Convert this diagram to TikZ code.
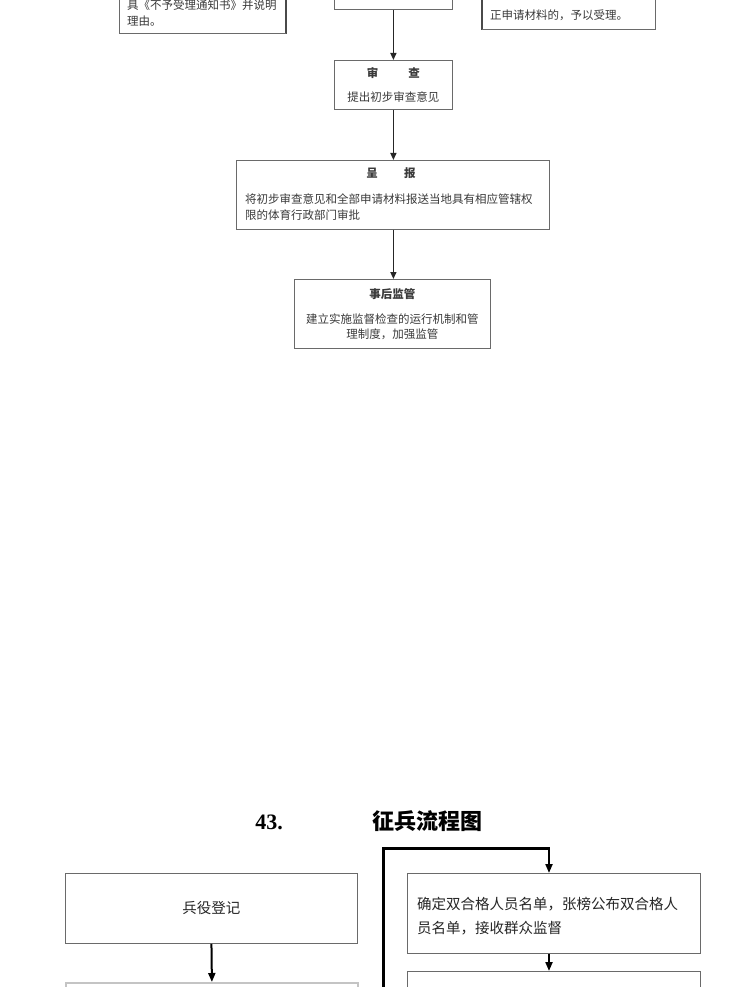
\documentclass[tikz,border=0pt]{standalone}
\usepackage{fontspec}
\newfontfamily\cjk{Noto Sans CJK SC}
\newfontfamily\tms{Liberation Serif}
\usetikzlibrary{arrows.meta}
\definecolor{boxgray}{HTML}{6A6A6A}
\definecolor{edgegray}{HTML}{4A4A4A}
\definecolor{txtgray}{HTML}{3A3A3A}
\definecolor{lightgray}{HTML}{C4C4C4}
\begin{document}
\begin{tikzpicture}[x=1pt,y=-1pt,
  box/.style={draw=boxgray, line width=0.8pt, rectangle, inner sep=0pt, anchor=north west},
  sbox/.style={box, font=\cjk\fontsize{11.5}{24}\selectfont, text=txtgray, align=center},
  bbox/.style={box, draw=boxgray, line width=0.9pt, font=\cjk\fontsize{14.5}{24}\selectfont, text=black!85},
  stxt/.style={inner sep=0pt, font=\cjk\fontsize{11.5}{16}\selectfont, text=txtgray},
  btxt/.style={inner sep=0pt, font=\cjk\fontsize{14.5}{24}\selectfont, text=black!85, align=left},
  edge/.style={draw=edgegray, line width=1.6pt},
  sarr/.style={draw=black!85, line width=1.3pt, -{Triangle[length=7pt,width=6pt]}},
  barr/.style={draw=black, line width=2pt, -{Triangle[length=9pt,width=7pt]}},
  thick line/.style={draw=black, line width=3pt}
]
\useasboundingbox (0,0) rectangle (730,987);
\clip (0,0) rectangle (730,987);
\fill[white] (0,0) rectangle (730,987);

% ---------- upper flow ----------
\node[box, minimum width=166pt, minimum height=73pt] (tl) at (119,-40) {};
\draw[edge] (tl.north east) -- (tl.south east);
\draw[draw=boxgray, line width=1.2pt] (tl.south west) -- (tl.south east);
\node[stxt, anchor=west] (tlt1) at (127,5.5) {具《不予受理通知书》并说明};
\node[stxt, anchor=west] (tlt2) at (127,21.5) {理由。};

\node[box, minimum width=118pt, minimum height=49.5pt] (tm) at (334,-40) {};

\node[box, minimum width=173pt, minimum height=69pt] (tr) at (482,-40) {};
\draw[edge] (tr.north west) -- (tr.south west);
\draw[draw=boxgray, line width=1.2pt] (tr.south west) -- (tr.south east);
\node[stxt, anchor=west] (trt) at (490,15) {正申请材料的，予以受理。};

\node[sbox, minimum width=118pt, minimum height=49pt] (sc) at (334,60)
  {{\bfseries 审\hspace{2.6em}查}\\提出初步审查意见};

\node[box, minimum width=313pt, minimum height=69pt] (cb) at (236,160) {};
\node[stxt, font=\cjk\bfseries\fontsize{11.5}{16}\selectfont] (cbt) at (391,173) {呈\hspace{2.3em}报};
\node[stxt, anchor=west, align=left] (cbb) at (245,207)
  {将初步审查意见和全部申请材料报送当地具有相应管辖权\\限的体育行政部门审批};

\node[box, minimum width=196pt, minimum height=69pt, font=\cjk\fontsize{11.5}{15}\selectfont, text=txtgray, align=center] (sh) at (294,279)
  {{\bfseries 事后监管}\\[10pt]建立实施监督检查的运行机制和管\\理制度，加强监管};

\draw[sarr] (tm.south) -- (tm.south |- sc.north);
\draw[sarr] (tm.south |- sc.south) -- (tm.south |- cb.north);
\draw[sarr] (tm.south |- cb.south) -- (tm.south |- sh.north);

% ---------- title ----------
\node[inner sep=0pt, font=\tms\bfseries\fontsize{22}{26}\selectfont] (num) at (269,822) {43.};
\node[inner sep=0pt, font=\cjk\bfseries\fontsize{22}{26}\selectfont] (ttl) at (427,821) {征兵流程图};

% ---------- lower flow ----------
\node[bbox, minimum width=292pt, minimum height=70pt] (by) at (65,873) {兵役登记};
\node[box, draw=lightgray, line width=1.8pt, minimum width=292pt, minimum height=40pt] (bl) at (65,982) {};

\node[bbox, minimum width=293pt, minimum height=80pt] (rb) at (407,873) {};
\node[btxt, anchor=west] (rbt) at (417,916)
  {确定双合格人员名单，张榜公布双合格人\\员名单，接收群众监督};
\node[bbox, minimum width=293pt, minimum height=40pt] (rb2) at (407,971) {};

\coordinate (lp0) at (383,1000);
\coordinate (lp1) at (383,848);
\coordinate (lp2) at (549,848);
\draw[thick line] (lp0) -- (lp1) -- ([xshift=0.8pt]lp2);
\draw[barr] ([yshift=-1pt]lp2) -- (lp2 |- rb.north);

\draw[barr] (by.south) -- (bl.north);
\draw[barr] (lp2 |- rb.south) -- (lp2 |- rb2.north);
\end{tikzpicture}
\end{document}
